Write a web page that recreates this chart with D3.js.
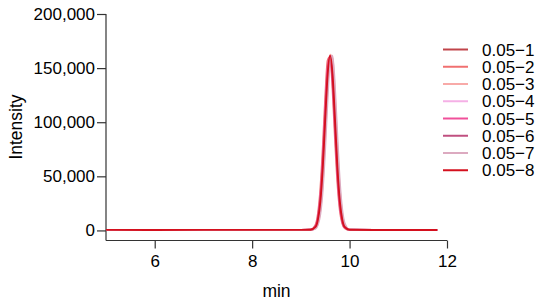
<!DOCTYPE html>
<html>
<head>
<meta charset="utf-8">
<script src="https://cdn.jsdelivr.net/npm/d3@7"></script>
<style>
  body { margin: 0; background: #fff; }
  svg text { font-family: "Liberation Sans", Arial, sans-serif; fill: #000; }
</style>
</head>
<body>
<div id="chart"></div>
<script>
var w = 550, h = 303;

// retention time grid (min)
var times = [5, 6, 7, 8, 9, 9.2, 9.3, 9.35, 9.4, 9.45, 9.5, 9.55, 9.6, 9.65, 9.7, 9.75, 9.8, 9.85, 9.9, 10, 10.5, 11, 11.8];

var seriesNames = ["0.05\u22121", "0.05\u22122", "0.05\u22123", "0.05\u22124", "0.05\u22125", "0.05\u22126", "0.05\u22127", "0.05\u22128"];
var seriesColors = ["#c0444a", "#f07070", "#f8aaa8", "#f5b0e6", "#f0509a", "#c05080", "#dcaac0", "#d4101e"];

// intensities
var s1 = [500, 450, 520, 480, 500, 600, 3200, 9900, 26600, 58100, 102100, 143400, 160500, 143400, 102100, 58100, 26600, 9900, 3200, 600, 450, 420, 400];
var s2 = [480, 470, 500, 500, 520, 750, 5200, 15300, 38000, 76300, 122400, 157000, 160600, 131100, 85300, 44500, 18600, 6500, 2100, 500, 430, 400, 390];
var s3 = [520, 460, 490, 510, 480, 500, 2100, 6600, 18800, 45000, 86300, 132700, 162500, 158900, 123900, 77200, 38400, 15500, 5300, 750, 470, 420, 410];
var s4 = [490, 480, 510, 470, 500, 550, 2500, 7900, 21800, 49900, 91800, 134600, 157800, 147400, 110000, 65400, 31300, 12000, 4000, 650, 440, 410, 400];
var s5 = [510, 450, 500, 490, 510, 650, 4000, 12200, 31900, 66700, 112100, 150200, 160800, 137200, 93600, 50900, 22200, 8100, 2600, 550, 450, 420, 400];
var s6 = [500, 470, 480, 500, 490, 600, 3200, 9900, 26400, 57700, 101500, 142500, 159500, 142500, 101500, 57700, 26400, 9900, 3200, 600, 440, 410, 400];
var s7 = [480, 460, 500, 480, 500, 500, 1700, 5300, 15400, 38200, 76800, 123200, 157900, 161500, 131900, 85800, 44800, 18700, 6600, 830, 460, 420, 400];
var s8 = [500, 460, 510, 490, 500, 600, 3200, 10000, 26700, 58400, 102700, 144200, 161500, 144200, 102700, 58400, 26700, 10000, 3200, 600, 450, 420, 400];

var allSeries = [s1, s2, s3, s4, s5, s6, s7, s8];

var yTicks = [0, 50000, 100000, 150000, 200000];
var xTicks = [6, 8, 10, 12];

var svg = d3.select("#chart")
  .append("svg")
    .attr("width", w)
    .attr("height", h);

var x = d3.scaleLinear().domain([5, 12]).range([106, 447]);
var y = d3.scaleLinear().domain([-9300, 200000]).range([240.5, 14]);

var fmt = d3.format(",");

// y axis
var yAxis = svg.append("g")
  .attr("transform", "translate(106,0)")
  .call(d3.axisLeft(y).tickValues(yTicks).tickFormat(fmt).tickSize(9).tickPadding(2).tickSizeOuter(0));
yAxis.select(".domain").attr("d", "M0," + y(200000) + "V" + y.range()[0]);
yAxis.selectAll("text").style("font-size", "17px");

// x axis
var xAxis = svg.append("g")
  .attr("transform", "translate(0," + y.range()[0] + ")")
  .call(d3.axisBottom(x).tickValues(xTicks).tickFormat(d3.format("d")).tickSize(8).tickPadding(6).tickSizeOuter(0));
xAxis.select(".domain").attr("d", "M" + x(5) + ",0H" + x(12));
xAxis.selectAll("text").style("font-size", "17px");

svg.selectAll(".domain, .tick line").attr("stroke", "#333").attr("stroke-width", 1.2);

// axis titles
svg.append("text")
  .attr("x", (x(5) + x(12)) / 2)
  .attr("y", 297)
  .attr("text-anchor", "middle")
  .style("font-size", "17.5px")
  .text("min");

svg.append("text")
  .attr("transform", "translate(22,127) rotate(-90)")
  .attr("text-anchor", "middle")
  .style("font-size", "17.5px")
  .text("Intensity");

// traces
var line = d3.line()
  .x(function(d) { return x(d[0]); })
  .y(function(d) { return y(d[1]); })
  .curve(d3.curveMonotoneX);

svg.selectAll("path.trace")
  .data(allSeries)
  .enter().append("path")
    .attr("class", "trace")
    .attr("fill", "none")
    .attr("stroke", function(d, i) { return seriesColors[i]; })
    .attr("stroke-width", 1.9)
    .attr("d", function(d) { return line(times.map(function(t, j) { return [t, d[j]]; })); });

// legend
var legend = svg.selectAll("g.leg")
  .data(seriesNames)
  .enter().append("g")
    .attr("class", "leg")
    .attr("transform", function(d, i) { return "translate(443," + (49.5 + i * 17.25) + ")"; });

legend.append("line")
  .attr("x1", 0).attr("x2", 25)
  .attr("stroke", function(d, i) { return seriesColors[i]; })
  .attr("stroke-width", 2);

legend.append("text")
  .attr("x", 39)
  .attr("dy", "0.36em")
  .style("font-size", "17px")
  .text(function(d) { return d; });
</script>
</body>
</html>
